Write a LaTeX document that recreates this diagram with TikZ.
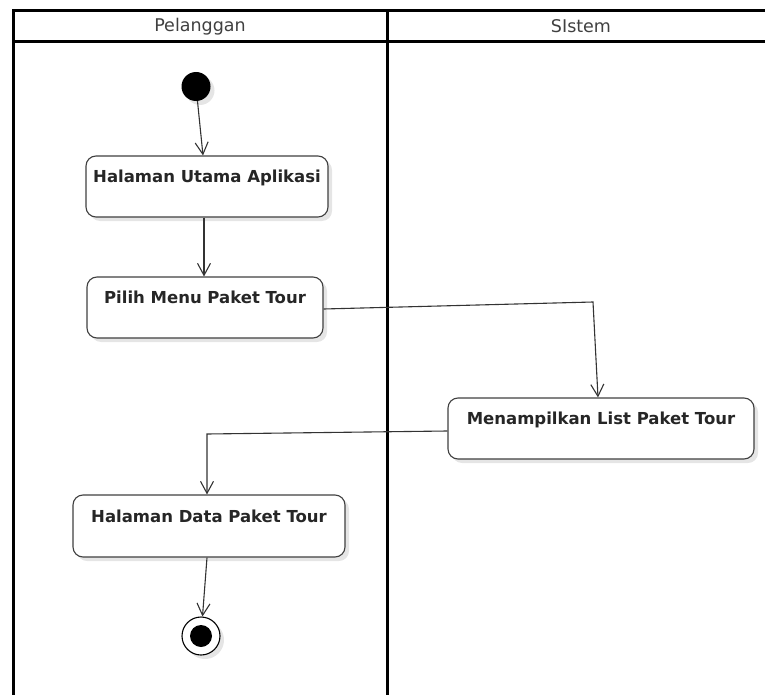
\documentclass[tikz,border=0pt]{standalone}
\usepackage{fontspec}
\setmainfont{DejaVu Sans}
\usetikzlibrary{arrows.meta,shadows}
\begin{document}
\begin{tikzpicture}[x=1pt,y=-1pt,
  lane/.style={line width=3pt,black,line cap=rect},
  hdr/.style={font=\fontsize{17.5}{20}\selectfont,text=black!75,inner sep=0pt},
  act/.style={draw=black!75,line width=1.1pt,rounded corners=10pt,fill=white,
    drop shadow={shadow xshift=4pt,shadow yshift=-4pt,fill=black!10,opacity=1},
    font=\bfseries\fontsize{16.5}{19}\selectfont,text=black!85,inner sep=0pt,
    text height=12pt,text depth=20pt},
  flow/.style={draw=black!80,line width=1.1pt,-{Straight Barb[length=12pt,width=13pt,line width=1.1pt]}}
]
\useasboundingbox (0,0) rectangle (765,695);
% swimlanes
\coordinate (tl) at (13,11);
\coordinate (tr) at (770,11);
\coordinate (hl) at (13,42);
\coordinate (hr) at (770,42);
\coordinate (bl) at (13,700);
\coordinate (mt) at (387,11);
\coordinate (mb) at (387,700);
\draw[lane] (bl) -- (tl) -- (tr);
\draw[lane] (hl) -- (hr);
\draw[lane] (mt) -- (mb);
\node[hdr] (h1) at (200,26.5) {Pelanggan};
\node[hdr] (h2) at (581,26.5) {SIstem};
% start
\node[circle,fill=black,minimum size=29pt,inner sep=0pt,
  drop shadow={shadow xshift=4pt,shadow yshift=-4pt,fill=black!10,opacity=1}] (start) at (196,86.5) {};
% activities
\node[act,minimum width=242pt,minimum height=61pt] (a1) at (207,186.5) {Halaman Utama Aplikasi};
\node[act,minimum width=236pt,minimum height=61pt] (a2) at (205,307.5) {Pilih Menu Paket Tour};
\node[act,minimum width=306pt,minimum height=61pt] (a3) at (601,428.5) {Menampilkan List Paket Tour};
\node[act,minimum width=272pt,minimum height=62pt] (a4) at (209,526) {Halaman Data Paket Tour};
% end
\node[circle,draw=black,line width=1.1pt,fill=white,minimum size=38pt,inner sep=0pt,
  drop shadow={shadow xshift=4pt,shadow yshift=-4pt,fill=black!10,opacity=1}] (end) at (201,636) {};
\node[circle,fill=black,minimum size=22pt,inner sep=0pt] (endin) at (end.center) {};
% connectors
\coordinate (k1) at (593,302);
\coordinate (k2) at (207,434);
\draw[flow] (start) -- ([xshift=-4pt]a1.north);
\draw[flow] ([xshift=-3pt]a1.south) -- ([xshift=-1pt]a2.north);
\draw[flow] ([yshift=-1.5pt]a2.east) -- (k1) -- ([xshift=-3pt]a3.north);
\draw[flow] ([yshift=-2.5pt]a3.west) -- (k2) -- ([xshift=-2pt]a4.north);
\draw[flow] ([xshift=-2pt]a4.south) -- (end);
\end{tikzpicture}
\end{document}
